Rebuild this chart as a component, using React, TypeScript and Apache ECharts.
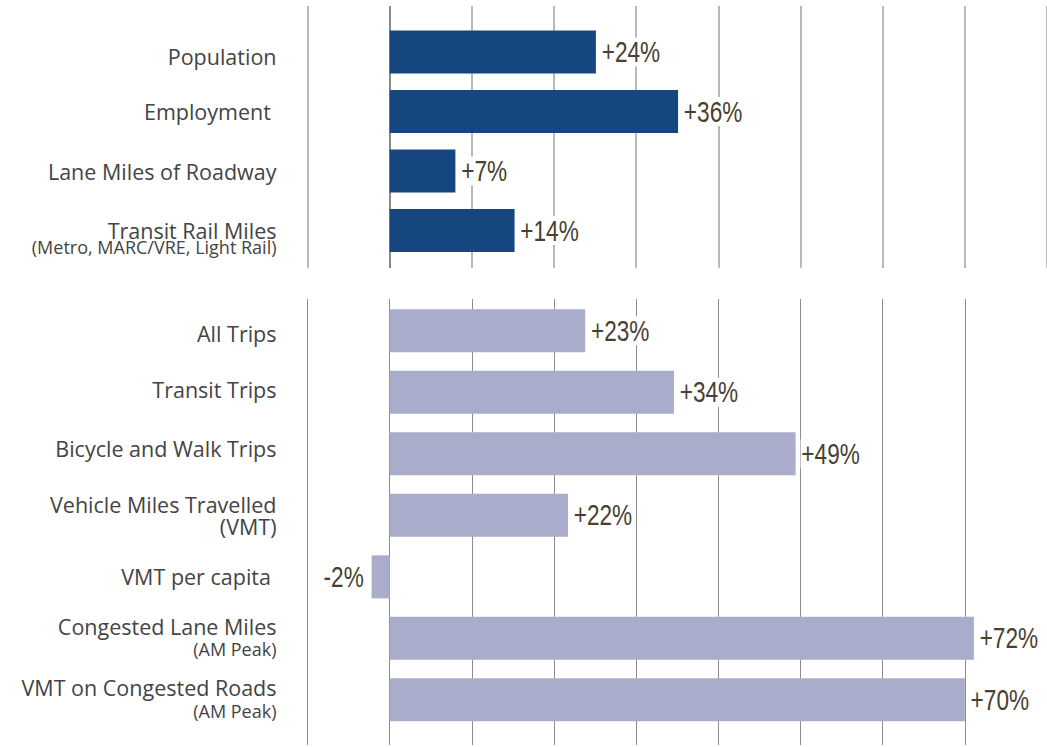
import React, { useEffect, useRef } from "react";
import * as echarts from "echarts";

const topCategories = ["Population", "Employment ", "Lane Miles of Roadway", "Transit Rail Miles"];
const topSubLabels = ["", "", "", "(Metro, MARC/VRE, Light Rail)"];
const topValues = [25.1, 35.1, 8.0, 15.2];
const topLabels = ["+24%", "+36%", "+7%", "+14%"];

const bottomCategories = [
  "All Trips",
  "Transit Trips",
  "Bicycle and Walk Trips",
  "Vehicle Miles Travelled",
  "VMT per capita ",
  "Congested Lane Miles",
  "VMT on Congested Roads",
];
const bottomSubLabels = ["", "", "", "(VMT)", "", "(AM Peak)", "(AM Peak)"];
const bottomValues = [23.8, 34.6, 49.4, 21.7, -2.2, 71.1, 70.0];
const bottomLabels = ["+23%", "+34%", "+49%", "+22%", "-2%", "+72%", "+70%"];

const xMin = -10;
const xMax = 80;
const xStep = 10;

// layout-only vertical nudges (px) of the category texts
const TOP_LABEL_SHIFT = [4, 0, 0, 5.5];
const BOTTOM_LABEL_SHIFT = [3, -3, -5, 0, 0, 0, 0];

const TOP_COLOR = "#16467f";
const BOTTOM_COLOR = "#a9adcb";
const LABEL_FONT = "'Open Sans', 'Noto Sans', sans-serif";
const VALUE_FONT = "'Liberation Sans', Arial, sans-serif";

const GRID_LEFT = 307.5;
const GRID_WIDTH = 741.6;

const rich = {
  m: { fontSize: 21.5, color: "#444444", fontFamily: LABEL_FONT, lineHeight: 22 },
  s: { fontSize: 18, color: "#444444", fontFamily: LABEL_FONT, lineHeight: 24 },
  t: { fontSize: 18, color: "#444444", fontFamily: LABEL_FONT, lineHeight: 12 },
};

function shiftStyle(s: number) {
  if (!s) return undefined;
  return { padding: s > 0 ? [2 * s, 0, 0, 0] : [0, 0, -2 * s, 0] };
}

function valueAxisHidden(gridIndex: number) {
  return {
    type: "value",
    gridIndex,
    min: xMin,
    max: xMax,
    interval: xStep,
    axisLine: { show: false },
    axisTick: { show: false },
    axisLabel: { show: false },
    splitLine: { show: false },
  };
}

function labelSeries(axisIndex: number, values: number[], labels: string[]) {
  return {
    type: "custom",
    xAxisIndex: axisIndex,
    yAxisIndex: axisIndex,
    encode: { x: 0, y: 1 },
    z: 5,
    data: values.map((v, i) => [v, i]),
    renderItem: (params: any, api: any) => {
      const v = api.value(0);
      const idx = api.value(1);
      const pt = api.coord([v, idx]);
      const neg = v < 0;
      return {
        type: "text",
        x: pt[0] + (neg ? -7 : 5),
        y: pt[1],
        scaleX: 0.78,
        style: {
          text: labels[params.dataIndex],
          fontFamily: VALUE_FONT,
          fontSize: 29,
          fill: "#4a4030",
          align: neg ? "right" : "left",
          verticalAlign: "middle",
          backgroundColor: "#ffffff",
          padding: [0, 1],
        },
      };
    },
  };
}

export default function App() {
  const ref = useRef<HTMLDivElement>(null);
  useEffect(() => {
    if (!ref.current) return;
    const chart = echarts.init(ref.current, undefined, { renderer: "svg" });
    const tickCount = Math.round((xMax - xMin) / xStep) + 1;
    const topLineColors: string[] = [];
    for (let i = 0; i < tickCount; i++) {
      topLineColors.push(xMin + i * xStep === 0 ? "#8a8a8a" : "#b9b9b9");
    }
    chart.setOption({
      animation: false,
      textStyle: { fontFamily: LABEL_FONT },
      grid: [
        { left: GRID_LEFT, width: GRID_WIDTH, top: 6, height: 262 },
        { left: GRID_LEFT, width: GRID_WIDTH, top: 22.3, height: 238 },
        { left: GRID_LEFT, width: GRID_WIDTH, top: 299, height: 446 },
        { left: GRID_LEFT, width: GRID_WIDTH, top: 300.1, height: 430.5 },
      ],
      xAxis: [
        {
          ...valueAxisHidden(0),
          splitLine: { show: true, lineStyle: { color: topLineColors, width: 2 } },
        },
        valueAxisHidden(1),
        {
          ...valueAxisHidden(2),
          splitLine: { show: true, lineStyle: { color: "#8c8c8c", width: 1 } },
        },
        valueAxisHidden(3),
      ],
      yAxis: [
        { type: "value", gridIndex: 0, min: 0, max: 1, show: false },
        {
          type: "category",
          gridIndex: 1,
          inverse: true,
          data: topCategories.map((c, i) => {
            const st = shiftStyle(TOP_LABEL_SHIFT[i]);
            return st ? { value: c, textStyle: st } : c;
          }),
          axisLine: { show: false },
          axisTick: { show: false },
          axisLabel: {
            margin: 31,
            formatter: (v: string, i: number) =>
              topSubLabels[i] ? `{m|${v}}\n{t|${topSubLabels[i]}}` : `{m|${v}}`,
            rich,
          },
        },
        { type: "value", gridIndex: 2, min: 0, max: 1, show: false },
        {
          type: "category",
          gridIndex: 3,
          inverse: true,
          data: bottomCategories.map((c, i) => {
            const st = shiftStyle(BOTTOM_LABEL_SHIFT[i]);
            return st ? { value: c, textStyle: st } : c;
          }),
          axisLine: { show: false },
          axisTick: { show: false },
          axisLabel: {
            margin: 31,
            formatter: (v: string, i: number) => {
              const sub = bottomSubLabels[i];
              if (!sub) return `{m|${v}}`;
              return sub.indexOf("AM") >= 0 ? `{m|${v}}\n{s|${sub}}` : `{m|${v}}\n{m|${sub}}`;
            },
            rich,
          },
        },
      ],
      series: [
        {
          type: "bar",
          xAxisIndex: 1,
          yAxisIndex: 1,
          barWidth: 43,
          itemStyle: { color: TOP_COLOR },
          data: topValues,
        },
        labelSeries(1, topValues, topLabels),
        {
          type: "bar",
          xAxisIndex: 3,
          yAxisIndex: 3,
          barWidth: 43,
          itemStyle: { color: BOTTOM_COLOR },
          data: bottomValues,
        },
        labelSeries(3, bottomValues, bottomLabels),
      ],
    });
    return () => chart.dispose();
  }, []);
  return (
    <div
      ref={ref}
      style={{ position: "absolute", left: 0, top: 0, width: 1047, height: 747, background: "#ffffff" }}
    />
  );
}
